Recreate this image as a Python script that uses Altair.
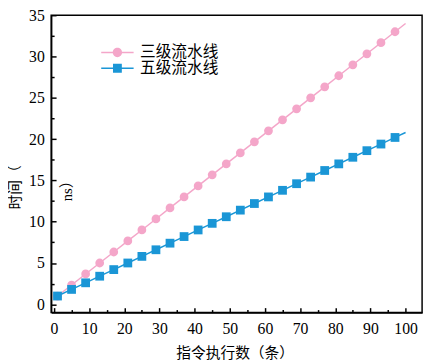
import altair as alt
import pandas as pd

# ---- data ----
series = ["三级流水线", "五级流水线"]
colors = ["#F4A6C9", "#1A96D6"]
instr = [1, 5, 9, 13, 17, 21, 25, 29, 33, 37, 41, 45, 49, 53, 57, 61, 65, 69, 73, 77, 81, 85, 89, 93, 97]
three_stage = [1.0, 2.33, 3.67, 5.0, 6.33, 7.67, 9.0, 10.33, 11.67, 13.0, 14.33, 15.67, 17.0,
               18.33, 19.67, 21.0, 22.33, 23.67, 25.0, 26.33, 27.67, 29.0, 30.33, 31.67, 33.0]
five_stage = [1.0, 1.8, 2.6, 3.4, 4.2, 5.0, 5.8, 6.6, 7.4, 8.2, 9.0, 9.8, 10.6,
              11.4, 12.2, 13.0, 13.8, 14.6, 15.4, 16.2, 17.0, 17.8, 18.6, 19.4, 20.2]
line_end_x = [100]
three_end = [34.0]
five_end = [20.8]

x_major = [0, 10, 20, 30, 40, 50, 60, 70, 80, 90, 100]
x_all_ticks = [0, 5, 10, 15, 20, 25, 30, 35, 40, 45, 50, 55, 60, 65, 70, 75, 80, 85, 90, 95, 100]
y_major = [0, 5, 10, 15, 20, 25, 30, 35]
y_all_ticks = [0, 2.5, 5, 7.5, 10, 12.5, 15, 17.5, 20, 22.5, 25, 27.5, 30, 32.5, 35]

x_title = "指令执行数（条）"
y_title = ["时间（", "ns）"]

# ---- tables ----
pts = pd.DataFrame({
    "n": instr + instr,
    "t": three_stage + five_stage,
    "s": [series[0]] * len(instr) + [series[1]] * len(instr),
})
lines = pd.DataFrame({
    "n": instr + line_end_x + instr + line_end_x,
    "t": three_stage + three_end + five_stage + five_end,
    "s": [series[0]] * (len(instr) + 1) + [series[1]] * (len(instr) + 1),
})

W, H = 378, 303
FONT = "Liberation Serif, Noto Sans CJK SC"

xs = alt.Scale(domain=[-0.8, 104.7], nice=False, zero=False)
ys = alt.Scale(domain=[-1, 35], nice=False, zero=False)
color_scale = alt.Scale(domain=series, range=colors)

# legend glyphs: a short line with the marker in the middle (unit = 5px)
bar_l = "M-3.3,-0.15L-0.9,-0.15L-0.9,0.15L-3.3,0.15Z"
bar_r = "M0.9,-0.15L3.3,-0.15L3.3,0.15L0.9,0.15Z"
path_c = bar_l + bar_r + "M-0.95,0A0.95,0.95,0,1,1,0.95,0A0.95,0.95,0,1,1,-0.95,0Z"
path_s = bar_l + bar_r + "M-0.9,-0.9L0.9,-0.9L0.9,0.9L-0.9,0.9Z"
legend_shape_scale = alt.Scale(domain=series, range=[path_c, path_s])

legend = alt.Legend(
    title=None, orient="none", legendX=59.5, legendY=30, padding=0,
    symbolSize=100, labelOffset=15, rowPadding=0, symbolStrokeWidth=0,
    symbolOpacity=1,
    labelFont=FONT, labelFontSize=16, labelColor="black", labelLimit=300,
)


def series_line(i, with_axes):
    if with_axes:
        xa = alt.Axis(
            orient="bottom", values=x_major, ticks=False, tickSize=0, grid=False,
            domain=True, domainColor="black", domainWidth=1.5,
            labelFont=FONT, labelFontSize=16, labelColor="black", labelPadding=8,
            labelBaseline="top",
            title=x_title, titleFont=FONT, titleFontSize=15, titleFontWeight="normal",
            titleColor="black", titleX=187, titleY=41, titleAlign="center",
            titleBaseline="middle")
        ya = alt.Axis(
            orient="left", values=y_major, ticks=False, tickSize=0, grid=False,
            domain=True, domainColor="black", domainWidth=1.5,
            labelFont=FONT, labelFontSize=16, labelColor="black", labelPadding=7,
            title=y_title, titleFont=FONT, titleFontSize=15, titleFontWeight="normal",
            titleColor="black", titleLineHeight=53, titleX=-37, titleY=175,
            titleAlign="center", titleBaseline="middle", titleAngle=270)
    else:
        xa, ya = None, None
    return alt.Chart(lines).transform_filter(
        alt.datum.s == series[i]
    ).mark_line(strokeWidth=1.5, color=colors[i]).encode(
        x=alt.X("n:Q", scale=xs, axis=xa),
        y=alt.Y("t:Q", scale=ys, axis=ya),
    )


circles = alt.Chart(pts).transform_filter(
    alt.datum.s == series[0]
).mark_point(filled=True, size=80, opacity=1, shape="circle", color=colors[0]).encode(
    x=alt.X("n:Q", scale=xs, axis=alt.Axis(
        orient="top", offset=-H, values=x_all_ticks, labels=False, domain=False,
        ticks=True, grid=False, tickColor="black", tickWidth=1.5,
        tickSize={"condition": {"test": "datum.value % 10 === 0", "value": 5}, "value": 3},
        title=None)),
    y=alt.Y("t:Q", scale=ys, axis=alt.Axis(
        orient="right", offset=-W, values=y_all_ticks, labels=False, domain=False,
        ticks=True, grid=False, tickColor="black", tickWidth=1.5,
        tickSize={"condition": {"test": "datum.value % 5 === 0", "value": 5}, "value": 3},
        title=None)),
)

squares = alt.Chart(pts).transform_filter(
    alt.datum.s == series[1]
).mark_point(filled=True, size=80, opacity=1, shape="square", color=colors[1]).encode(
    x=alt.X("n:Q", scale=xs, axis=None),
    y=alt.Y("t:Q", scale=ys, axis=None),
)

legend_layer = alt.Chart(pts).mark_point(filled=True, opacity=0).encode(
    x=alt.X("n:Q", scale=xs, axis=None),
    y=alt.Y("t:Q", scale=ys, axis=None),
    color=alt.Color("s:N", scale=color_scale, legend=legend),
    shape=alt.Shape("s:N", scale=legend_shape_scale, legend=legend),
)

chart = alt.layer(
    series_line(0, True), series_line(1, False), circles, squares, legend_layer
).resolve_axis(
    x="independent", y="independent"
).properties(
    width=W, height=H,
    autosize=alt.AutoSizeParams(type="none"),
    padding={"left": 44, "top": 4, "right": 5, "bottom": 45},
    background="white",
).configure_view(stroke="black", strokeWidth=1.5)

chart.save("out.html", embed_options={"renderer": "svg", "actions": False})
